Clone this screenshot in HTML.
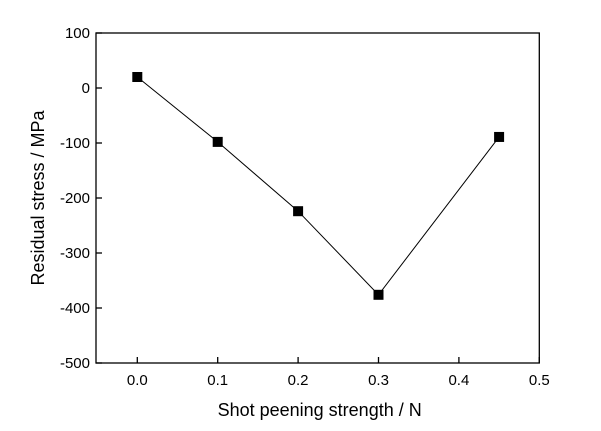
<!DOCTYPE html>
<html><head><meta charset="utf-8"><style>body{margin:0;background:#fff}svg{display:block;font-family:"Liberation Sans",Arial,sans-serif}</style></head>
<body>
<svg id="c" width="601" height="431"></svg>
<script>
const xValues=[0,0.1,0.2,0.3,0.45];
const yValues=[20,-98,-224,-376,-89];
const xTicks=[0.0,0.1,0.2,0.3,0.4,0.5];
const yTicks=[100,0,-100,-200,-300,-400,-500];
const L=96,R=539.3,T=33,B=363;
const sx=v=>137.3+(v-0)*804;
const sy=v=>T+(100-v)*(B-T)/600;
const svg=document.getElementById('c');const NS='http://www.w3.org/2000/svg';
function mk(t,a,p){const e=document.createElementNS(NS,t);for(const k in a)e.setAttribute(k,a[k]);(p||svg).appendChild(e);return e;}
const frame=mk('rect',{x:L,y:T,width:R-L,height:B-T,fill:'none',stroke:'#000','stroke-width':1.3});


xTicks.forEach(v=>{const x=sx(v);
const t=mk('line',{x1:x,x2:x,y1:B,y2:B-6,stroke:'#000','stroke-width':1.3});


const l=mk('text',{x:x,y:B+22,'font-size':15,'text-anchor':'middle'});l.textContent=v.toFixed(1);

});
yTicks.forEach(v=>{const y=sy(v);
const t=mk('line',{x1:L,x2:L+6,y1:y,y2:y,stroke:'#000','stroke-width':1.3});


const l=mk('text',{x:L-6,y:y+5,'font-size':15,'text-anchor':'end'});l.textContent=v;

});
const line=mk('polyline',{points:xValues.map((x,i)=>sx(x)+','+sy(yValues[i])).join(' '),fill:'none',stroke:'#000','stroke-width':1});


xValues.forEach((x,i)=>{const m=mk('rect',{x:sx(x)-5,y:sy(yValues[i])-5,width:10,height:10,fill:'#000'});

});
const xt=mk('text',{x:(L+R)/2+2,y:416,'font-size':18,'text-anchor':'middle'});xt.textContent='Shot peening strength / N';


const yt=mk('text',{x:0,y:0,'font-size':18,'text-anchor':'middle',transform:'translate(44,'+(T+B)/2+') rotate(-90)'});yt.textContent='Residual stress / MPa';


</script>
</body></html>
